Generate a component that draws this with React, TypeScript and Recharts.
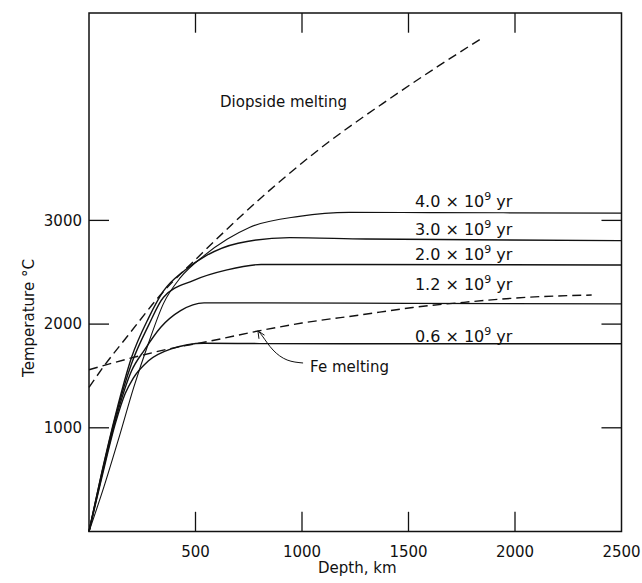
import React from 'react';
import { LineChart, Line, XAxis, YAxis, ReferenceLine, ReferenceArea, ReferenceDot, Label } from 'recharts';

// ---- data (depth in km, temperature in °C) ----
const depthTicks = [500, 1000, 1500, 2000, 2500];
const tempTicks = [1000, 2000, 3000];
const innerDepthTicks = [500, 1000, 1500, 2000];

const depth06 = [0, 60, 125, 170, 208, 278, 386, 540, 800, 1200, 1800, 2500];
const temp06 = [0, 520, 1050, 1330, 1480, 1644, 1761, 1815, 1812, 1810, 1810, 1810];

const depth12 = [0, 60, 125, 200, 260, 337, 430, 540, 800, 1500, 2500];
const temp12 = [0, 540, 1080, 1550, 1750, 1970, 2130, 2205, 2205, 2200, 2195];

const depth20 = [0, 60, 125, 200, 280, 350, 489, 648, 808, 1200, 2500];
const temp20 = [0, 560, 1110, 1620, 1990, 2259, 2420, 2523, 2575, 2575, 2570];

const depth30 = [0, 60, 125, 200, 280, 350, 450, 550, 700, 942, 1300, 2500];
const temp30 = [0, 570, 1130, 1680, 2060, 2320, 2520, 2660, 2780, 2834, 2820, 2805];

const depth40 = [0, 70, 140, 210, 280, 350, 430, 540, 650, 753, 987, 1222, 1600, 2500];
const temp40 = [0, 430, 900, 1390, 1820, 2200, 2450, 2660, 2820, 2932, 3039, 3077, 3075, 3070];

const depthDiopside = [0, 72, 183, 335, 534, 798, 1077, 1402, 1634, 1839];
const tempDiopside = [1390, 1600, 1890, 2280, 2690, 3200, 3680, 4160, 4480, 4750];

const depthFe = [0, 230, 420, 540, 810, 1000, 1280, 1520, 1760, 2070, 2360];
const tempFe = [1560, 1690, 1780, 1825, 1940, 2010, 2090, 2160, 2210, 2260, 2280];

const ageLabels = ['4.0', '3.0', '2.0', '1.2', '0.6'];
const ageLabelDepth = [1530, 1530, 1530, 1530, 1530];
const ageLabelTemp = [3177, 2907, 2666, 2377, 1876];

// Fe melting arrow (annotation)
const arrowDepth = [1005, 930, 864, 817, 793];
const arrowTemp = [1625, 1654, 1750, 1876, 1935];

const zip = (d: number[], t: number[]) => d.map((depth, i) => ({ depth, temp: t[i] }));

const s06 = zip(depth06, temp06);
const s12 = zip(depth12, temp12);
const s20 = zip(depth20, temp20);
const s30 = zip(depth30, temp30);
const s40 = zip(depth40, temp40);
const sDiop = zip(depthDiopside, tempDiopside);
const sFe = zip(depthFe, tempFe);
const sArrow = zip(arrowDepth, arrowTemp);

const FONT = "'DejaVu Sans', sans-serif";
const INK = '#111';

const AgeText = (props: any) => {
  const vb = props.viewBox || { x: 0, y: 0, width: 0, height: 0 };
  const x = vb.x + (vb.width || 0) / 2;
  const y = vb.y + (vb.height || 0) / 2;
  return (
    <text x={x} y={y + 5} fontFamily={FONT} fontSize={16} fill={INK}>
      {props.age} × 10
      <tspan dy={-7} fontSize={11}>9</tspan>
      <tspan dy={7} fontSize={16}> yr</tspan>
    </text>
  );
};

const PlainText = (props: any) => {
  const vb = props.viewBox || { x: 0, y: 0, width: 0, height: 0 };
  const x = vb.x + (vb.width || 0) / 2;
  const y = vb.y + (vb.height || 0) / 2;
  return (
    <text x={x} y={y + 5} fontFamily={FONT} fontSize={15} fill={INK}>
      {props.text}
    </text>
  );
};

const XTitle = (props: any) => {
  const vb = props.viewBox || { x: 89, y: 531.5, width: 532.5, height: 51.5 };
  return (
    <text x={vb.x + vb.width / 2 + 2} y={vb.y + 41} textAnchor="middle" fontFamily={FONT} fontSize={15} fill={INK}>
      Depth, km
    </text>
  );
};

const YTitle = (props: any) => {
  const vb = props.viewBox || { x: 0, y: 13, width: 89, height: 518.5 };
  const cx = vb.x + vb.width - 60;
  const cy = vb.y + 305;
  return (
    <text x={cx} y={cy} transform={`rotate(-90, ${cx}, ${cy})`} textAnchor="middle" dominantBaseline="central" fontFamily={FONT} fontSize={15} fill={INK}>
      Temperature °C
    </text>
  );
};

export default function App() {
  const tickStyle = { fill: INK, fontSize: 15, fontFamily: FONT };
  const curve = (data: any[], key: string, dash?: string, width = 1.4) => (
    <Line
      key={key}
      data={data}
      dataKey="temp"
      type="monotone"
      stroke={INK}
      strokeWidth={width}
      strokeDasharray={dash}
      dot={false}
      activeDot={false}
      isAnimationActive={false}
    />
  );
  return (
    <div style={{ position: 'absolute', left: 0, top: 0, width: 642, height: 583, background: '#fff' }}>
      <LineChart width={642} height={583} margin={{ top: 13, right: 20.5, bottom: 0, left: 0 }}>
        <XAxis
          type="number"
          dataKey="depth"
          domain={[0, 2500]}
          ticks={depthTicks}
          tickLine={false}
          axisLine={false}
          tickSize={0}
          tickMargin={15}
          height={51.5}
          tick={tickStyle}
          interval={0}
        >
          <Label content={<XTitle />} />
        </XAxis>
        <YAxis
          type="number"
          domain={[0, 5000]}
          ticks={tempTicks}
          tickLine={false}
          axisLine={false}
          tickSize={0}
          tickMargin={7}
          width={89}
          tick={tickStyle}
          interval={0}
        >
          <Label content={<YTitle />} />
        </YAxis>

        <ReferenceArea x1={0} x2={2500} y1={0} y2={5000} fill="none" stroke={INK} strokeWidth={1.5} ifOverflow="visible" />

        {innerDepthTicks.map((d) => (
          <ReferenceLine key={'b' + d} segment={[{ x: d, y: 0 }, { x: d, y: 190 }]} stroke={INK} strokeWidth={1.3} />
        ))}
        {innerDepthTicks.map((d) => (
          <ReferenceLine key={'t' + d} segment={[{ x: d, y: 5000 }, { x: d, y: 4810 }]} stroke={INK} strokeWidth={1.3} />
        ))}
        {tempTicks.map((t) => (
          <ReferenceLine key={'l' + t} segment={[{ x: 0, y: t }, { x: 94, y: t }]} stroke={INK} strokeWidth={1.3} />
        ))}
        {tempTicks.map((t) => (
          <ReferenceLine key={'r' + t} segment={[{ x: 2500, y: t }, { x: 2406, y: t }]} stroke={INK} strokeWidth={1.3} />
        ))}

        {curve(s06, 's06')}
        {curve(s12, 's12')}
        {curve(s20, 's20')}
        {curve(s30, 's30')}
        {curve(s40, 's40', undefined, 1.1)}
        {curve(sDiop, 'diop', '9 5')}
        {curve(sFe, 'fe', '9 5')}
        <Line
          data={sArrow}
          dataKey="temp"
          type="natural"
          stroke={INK}
          strokeWidth={1}
          dot={false}
          activeDot={false}
          isAnimationActive={false}
        />
        <ReferenceLine segment={[{ x: 793, y: 1935 }, { x: 798, y: 1858 }]} stroke={INK} strokeWidth={1} />
        <ReferenceLine segment={[{ x: 793, y: 1935 }, { x: 824, y: 1893 }]} stroke={INK} strokeWidth={1} />

        {ageLabels.map((a, i) => (
          <ReferenceDot
            key={'lab' + a}
            x={ageLabelDepth[i]}
            y={ageLabelTemp[i]}
            r={0}
            fill="none"
            stroke="none"
            label={<AgeText age={a} />}
          />
        ))}
        <ReferenceDot x={615} y={4142} r={0} fill="none" stroke="none" label={<PlainText text="Diopside melting" />} />
        <ReferenceDot x={1038} y={1586} r={0} fill="none" stroke="none" label={<PlainText text="Fe melting" />} />
      </LineChart>
    </div>
  );
}
